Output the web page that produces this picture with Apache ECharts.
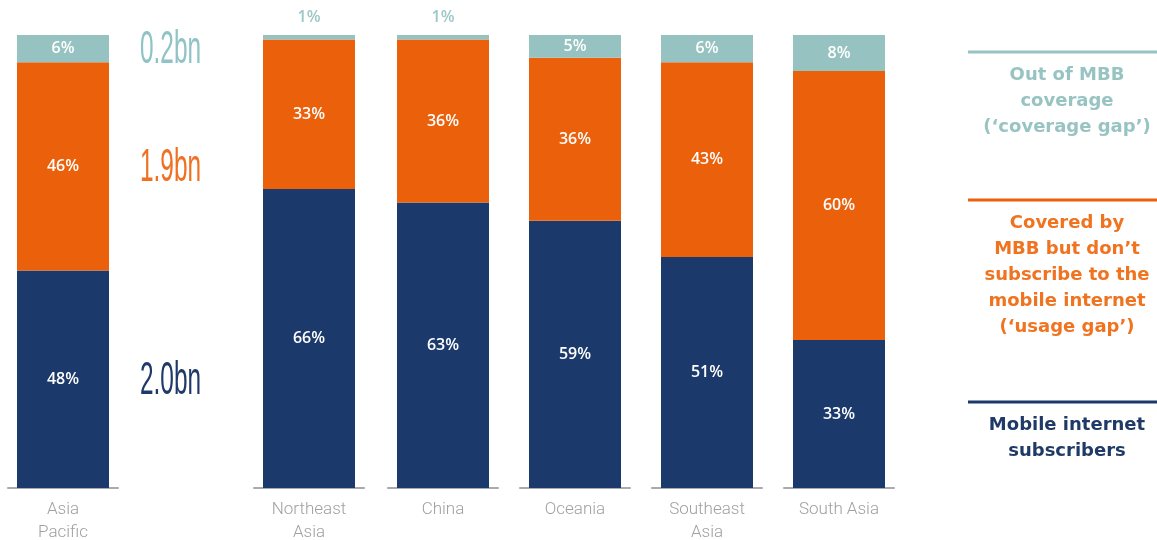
<!DOCTYPE html>
<html>
<head>
<meta charset="utf-8">
<script src="https://cdn.jsdelivr.net/npm/echarts@6/dist/echarts.min.js"></script>
<style>
html,body{margin:0;padding:0;background:#fff;}
#chart{width:1157px;height:540px;}
</style>
</head>
<body>
<div id="chart"></div>
<script>
const categories = ['Asia\nPacific', 'Northeast\nAsia', 'China', 'Oceania', 'Southeast\nAsia', 'South Asia'];
const subscribers = [48, 66, 63, 59, 51, 33];
const usageGap = [46, 33, 36, 36, 43, 60];
const coverageGap = [6, 1, 1, 5, 6, 8];
const regionTotals = ['2.0bn', '1.9bn', '0.2bn'];
const legendTexts = [
  "Out of MBB\ncoverage\n(\u2018coverage gap\u2019)",
  "Covered by\nMBB but don\u2019t\nsubscribe to the\nmobile internet\n(\u2018usage gap\u2019)",
  "Mobile internet\nsubscribers"
];

const NAVY = '#1b3a6b', ORANGE = '#eb600b', TEAL = '#96c3c1';
const barLefts = [17, 263, 397, 529, 661, 793];
const BAR_W = 92, PAD = 9;

const chart = echarts.init(document.getElementById('chart'));

const grids = [], xAxes = [], yAxes = [], series = [];
categories.forEach((cat, i) => {
  grids.push({ left: barLefts[i] - PAD, width: BAR_W + 2 * PAD, top: 35, bottom: 52, containLabel: false, outerBoundsMode: 'none' });
  xAxes.push({
    type: 'category', gridIndex: i, data: [cat],
    axisLine: { show: true, lineStyle: { color: '#aaaaaa', width: 2 } },
    axisTick: { show: false },
    axisLabel: { color: '#a0a0a0', fontFamily: 'Roboto', fontWeight: 300, fontSize: 17, lineHeight: 23, margin: 10 }
  });
  yAxes.push({ type: 'value', gridIndex: i, min: 0, max: function (v) { return Math.max(100, v.max); }, show: false, splitLine: { show: false } });
  const pctLabel = { show: true, position: 'inside', color: '#ffffff', fontFamily: 'Open Sans', fontWeight: 600, fontSize: 16, formatter: '{c}%' };
  series.push({
    type: 'bar', xAxisIndex: i, yAxisIndex: i, stack: 's' + i, barWidth: BAR_W, clip: false,
    data: [subscribers[i]], itemStyle: { color: NAVY }, label: pctLabel, silent: true
  });
  series.push({
    type: 'bar', xAxisIndex: i, yAxisIndex: i, stack: 's' + i, barWidth: BAR_W, clip: false,
    data: [usageGap[i]], itemStyle: { color: ORANGE }, label: pctLabel, silent: true
  });
  const cv = coverageGap[i];
  series.push({
    type: 'bar', xAxisIndex: i, yAxisIndex: i, stack: 's' + i, barWidth: BAR_W, clip: false,
    data: [cv], itemStyle: { color: TEAL }, silent: true,
    label: cv < 3
      ? Object.assign({}, pctLabel, { position: 'top', distance: 10, color: '#9cc8c7' })
      : pctLabel
  });
});

const legendColors = [TEAL, ORANGE, NAVY];
const legendTextColors = ['#97c4c2', '#f07320', '#1f3a66'];
const legendLineY = [52, 200, 402];
const graphic = [];
legendTexts.forEach((t, k) => {
  graphic.push({
    type: 'line', shape: { x1: 968, y1: legendLineY[k], x2: 1157, y2: legendLineY[k] },
    style: { stroke: legendColors[k], lineWidth: 3 }, silent: true
  });
  graphic.push({
    type: 'text', x: 1067, y: legendLineY[k] + 10,
    style: { text: t, fill: legendTextColors[k], font: 'bold 18px "DejaVu Sans"', textAlign: 'center', textVerticalAlign: 'top', lineHeight: 26 },
    silent: true
  });
});

chart.setOption({
  animation: false,
  backgroundColor: '#ffffff',
  grid: grids, xAxis: xAxes, yAxis: yAxes, series: series,
  graphic: graphic
});

// Totals for Asia Pacific, placed at segment centres of the first bar
const mids = [subscribers[0] / 2, subscribers[0] + usageGap[0] / 2, subscribers[0] + usageGap[0] + coverageGap[0] / 2];
const totColors = ['#1f3a6a', '#f07022', '#8fc3c6'];
const extra = mids.map((m, k) => {
  const p = chart.convertToPixel({ xAxisIndex: 0, yAxisIndex: 0 }, [0, m]);
  return {
    type: 'text', x: p[0] + BAR_W / 2 + 31, y: p[1] + 2, scaleX: 0.53,
    style: { text: regionTotals[k], fill: totColors[k], font: '46px "Liberation Sans"', textVerticalAlign: 'middle' },
    silent: true
  };
});
chart.setOption({ graphic: graphic.concat(extra) });
</script>
</body>
</html>
